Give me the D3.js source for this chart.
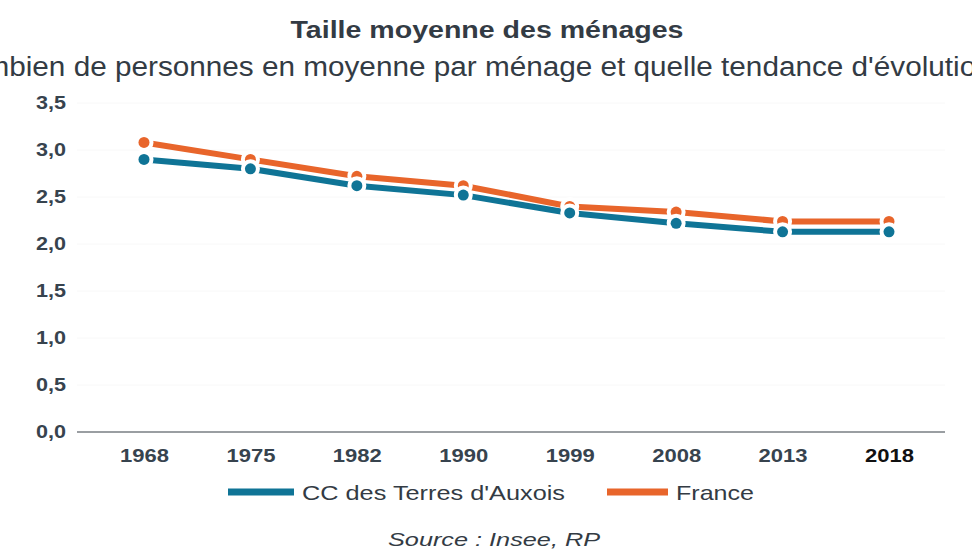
<!DOCTYPE html>
<html>
<head>
<meta charset="utf-8">
<script src="https://cdn.jsdelivr.net/npm/d3@7"></script>
<style>
  body { margin: 0; background: #fff; }
  text { font-family: "Liberation Sans", Arial, sans-serif; }
</style>
</head>
<body>
<script>
// data
var years = ["1968", "1975", "1982", "1990", "1999", "2008", "2013", "2018"];
var ccValues = [2.9, 2.8, 2.62, 2.52, 2.33, 2.22, 2.13, 2.13];
var franceValues = [3.08, 2.9, 2.72, 2.62, 2.4, 2.34, 2.24, 2.24];
var yTicks = [0, 0.5, 1, 1.5, 2, 2.5, 3, 3.5];
var seriesNames = ["CC des Terres d'Auxois", "France"];
var seriesColors = ["#0f7496", "#e8652b"];

var width = 972, height = 549;

var svg = d3.select("body").append("svg")
    .attr("width", width)
    .attr("height", height);

var x = d3.scalePoint().domain(years).range([144, 889]);
var y = d3.scaleLinear().domain([0, 3.5]).range([432, 103]);

// titles (the picture is stretched sideways, so texts get a fixed length)
svg.append("text")
   .attr("x", 487).attr("y", 38)
   .attr("text-anchor", "middle")
   .attr("font-size", "23px").attr("font-weight", "bold")
   .attr("fill", "#333b44")
   .attr("textLength", 393).attr("lengthAdjust", "spacingAndGlyphs")
   .text("Taille moyenne des ménages");

// subtitle runs past both edges, as in the source picture
svg.append("text")
   .attr("x", 482).attr("y", 76)
   .attr("text-anchor", "middle")
   .attr("font-size", "27px")
   .attr("fill", "#333b44")
   .attr("textLength", 1071).attr("lengthAdjust", "spacingAndGlyphs")
   .text("Combien de personnes en moyenne par ménage et quelle tendance d'évolution ?");

// faint grid
svg.append("g").selectAll("line")
   .data(yTicks.slice(1))
   .join("line")
   .attr("x1", 77).attr("x2", 945)
   .attr("y1", function(d) { return y(d); })
   .attr("y2", function(d) { return y(d); })
   .attr("stroke", "#f8f8f8").attr("stroke-width", 1);

// y axis labels
var yAxis = d3.axisLeft(y)
    .tickValues(yTicks)
    .tickSize(0)
    .tickPadding(0)
    .tickFormat(function(d) { return d3.format(".1f")(d).replace(".", ","); });
var gy = svg.append("g").attr("transform", "translate(66,0)").call(yAxis);
gy.select(".domain").remove();
gy.selectAll("text")
   .attr("font-family", "Liberation Sans, Arial, sans-serif")
   .attr("font-size", "18px").attr("font-weight", "bold")
   .attr("fill", "#37434e")
   .attr("textLength", 30).attr("lengthAdjust", "spacingAndGlyphs");

// x axis
var xAxis = d3.axisBottom(x).tickSize(0).tickPadding(0);
var gx = svg.append("g").attr("transform", "translate(0,432)").call(xAxis);
gx.select(".domain").remove();
gx.selectAll("text")
   .attr("dy", null)
   .attr("y", 30)
   .attr("font-family", "Liberation Sans, Arial, sans-serif")
   .attr("font-size", "19px").attr("font-weight", "bold")
   .attr("fill", function(d) { return d == "2018" ? "#111" : "#37434e"; })
   .attr("textLength", 49).attr("lengthAdjust", "spacingAndGlyphs");
svg.append("line")
   .attr("x1", 77).attr("x2", 945)
   .attr("y1", y(0)).attr("y2", y(0))
   .attr("stroke", "#9a9ea2").attr("stroke-width", 2);

// lines and markers
var series = [franceValues, ccValues];
var colors = [seriesColors[1], seriesColors[0]];
var line = d3.line()
   .x(function(d, i) { return x(years[i]); })
   .y(function(d) { return y(d); });

for (var s = 0; s < series.length; s++) {
   svg.append("path")
      .attr("d", line(series[s]))
      .attr("fill", "none")
      .attr("stroke", colors[s])
      .attr("stroke-width", 6);
}
for (var s = 0; s < series.length; s++) {
   svg.append("g").selectAll("circle")
      .data(series[s])
      .join("circle")
      .attr("cx", function(d, i) { return x(years[i]); })
      .attr("cy", function(d) { return y(d); })
      .attr("r", 5.5)
      .attr("fill", colors[s])
      .attr("stroke", "#fff")
      .attr("stroke-width", 8)
      .attr("paint-order", "stroke");
}

// legend
var legend = [
   {x: 228, w: 66, tw: 263, name: seriesNames[0], color: seriesColors[0]},
   {x: 607, w: 61, tw: 78, name: seriesNames[1], color: seriesColors[1]}
];
var lg = svg.append("g").selectAll("g").data(legend).join("g");
lg.append("line")
   .attr("x1", function(d) { return d.x; })
   .attr("x2", function(d) { return d.x + d.w; })
   .attr("y1", 492).attr("y2", 492)
   .attr("stroke", function(d) { return d.color; })
   .attr("stroke-width", 7);
lg.append("text")
   .attr("x", function(d) { return d.x + d.w + 8; })
   .attr("y", 500)
   .attr("font-size", "21px")
   .attr("fill", "#333b44")
   .attr("textLength", function(d) { return d.tw; })
   .attr("lengthAdjust", "spacingAndGlyphs")
   .text(function(d) { return d.name; });

// source
svg.append("text")
   .attr("x", 494).attr("y", 546)
   .attr("text-anchor", "middle")
   .attr("font-size", "19px").attr("font-style", "italic")
   .attr("fill", "#333b44")
   .attr("textLength", 212).attr("lengthAdjust", "spacingAndGlyphs")
   .text("Source : Insee, RP");
</script>
</body>
</html>
